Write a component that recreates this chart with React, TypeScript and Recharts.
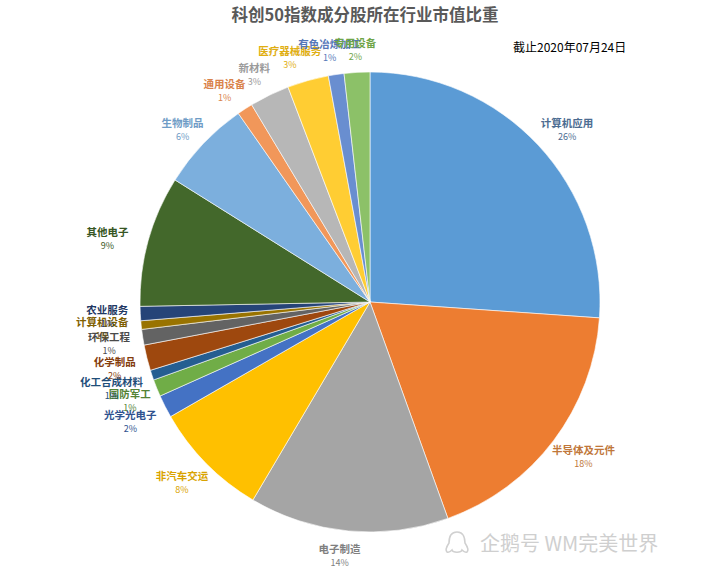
import React from "react";
import { PieChart, Pie, Cell } from "recharts";

const industries = [
  "计算机应用",
  "半导体及元件",
  "电子制造",
  "非汽车交运",
  "光学光电子",
  "国防军工",
  "化工合成材料",
  "化学制品",
  "环保工程",
  "计算机设备",
  "农业服务",
  "其他电子",
  "生物制品",
  "通用设备",
  "新材料",
  "医疗器械服务",
  "有色冶炼加工",
  "专用设备",
];

// market value share, %
const shares = [
  26.1, 18.4, 14.0, 8.2, 1.6, 1.2, 0.7, 1.8, 1.1, 0.6, 1.0, 9.2, 6.4, 1.1, 2.8,
  2.9, 1.1, 1.8,
];

const sliceColors = [
  "#5B9BD5", "#ED7D31", "#A5A5A5", "#FFC000", "#4472C4", "#70AD47",
  "#255E91", "#9E480E", "#636363", "#997300", "#264478", "#43682B",
  "#7CAFDD", "#F1975A", "#B7B7B7", "#FFCD33", "#698ED0", "#8CC168",
];

const labelColors = [
  "#4C6C91", "#C0773A", "#7F7F7F", "#D9A300", "#2F528F", "#548235",
  "#1F4E79", "#843C0C", "#4A4A4A", "#7F6000", "#1F3864", "#375623",
  "#6F9CC6", "#D9824A", "#9A9A9A", "#E0AE12", "#5677B8", "#6FA548",
];

// manual label nudges (the source chart had hand-placed labels)
const labelNudge: [number, number][] = [
  [7, 5], [6, -2], [-6, -5], [-3, -2], [-8, 2], [1, 2], [-12, 4], [-3, 4],
  [-4, 2], [-9, 1], [-3, 2], [-12, 6], [1, 7], [-4, 7], [-2, 7], [-10, 6],
  [-2, 6], [0, 8],
];

const data = industries.map((name, i) => ({ name, value: shares[i] }));

const RAD = Math.PI / 180;
const FONT = "'Noto Sans CJK SC', 'Noto Sans', sans-serif";

function renderLabel(props: any) {
  const { cx, cy, midAngle, outerRadius, index } = props;
  const r = outerRadius + 30;
  const x = cx + r * Math.cos(-midAngle * RAD) + labelNudge[index][0];
  const y = cy + r * Math.sin(-midAngle * RAD) + labelNudge[index][1];
  const color = labelColors[index];
  return (
    <g key={`lbl-${index}`}>
      <text
        x={x}
        y={y - 3}
        textAnchor="middle"
        fill={color}
        fontSize={10.5}
        fontWeight="bold"
        fontFamily={FONT}
      >
        {industries[index]}
      </text>
      <text
        x={x}
        y={y + 10}
        textAnchor="middle"
        fill={color}
        fontSize={9}
        fontFamily={FONT}
      >
        {`${Math.round(shares[index])}%`}
      </text>
    </g>
  );
}

export default function App() {
  return (
    <div
      style={{
        position: "absolute",
        left: 0,
        top: 0,
        width: 720,
        height: 568,
        background: "#fff",
        fontFamily: FONT,
      }}
    >
      <PieChart width={720} height={568}>
        <text
          x={365}
          y={21}
          textAnchor="middle"
          fill="#595959"
          fontSize={16.5}
          fontWeight="bold"
          fontFamily={FONT}
        >
          科创50指数成分股所在行业市值比重
        </text>
        <text x={513} y={52} fill="#000" fontSize={12} fontFamily={FONT}>
          截止2020年07月24日
        </text>
        <Pie
          data={data}
          dataKey="value"
          nameKey="name"
          cx={365}
          cy={297}
          outerRadius={230}
          startAngle={90}
          endAngle={-270}
          stroke="#ffffff"
          strokeWidth={0.6}
          label={renderLabel}
          labelLine={false}
          isAnimationActive={false}
        >
          {data.map((d, i) => (
            <Cell key={d.name} fill={sliceColors[i]} />
          ))}
        </Pie>
      </PieChart>
      <svg
        width={30}
        height={30}
        style={{ position: "absolute", left: 442, top: 528 }}
      >
        <path
          d="M15 4 C8 4 7 11 7 15 C5 18 3 22 5 24 C7 25 9 23 10 22 C11 25 19 25 20 22 C21 23 23 25 25 24 C27 22 25 18 23 15 C23 11 22 4 15 4 Z"
          fill="none"
          stroke="#d0d0d0"
          strokeWidth={1.6}
        />
      </svg>
      <div
        style={{
          position: "absolute",
          left: 480,
          top: 530,
          fontSize: 20,
          color: "#cfcfcf",
          fontFamily: FONT,
          whiteSpace: "nowrap",
          lineHeight: "26px",
        }}
      >
        企鹅号 WM完美世界
      </div>
    </div>
  );
}
